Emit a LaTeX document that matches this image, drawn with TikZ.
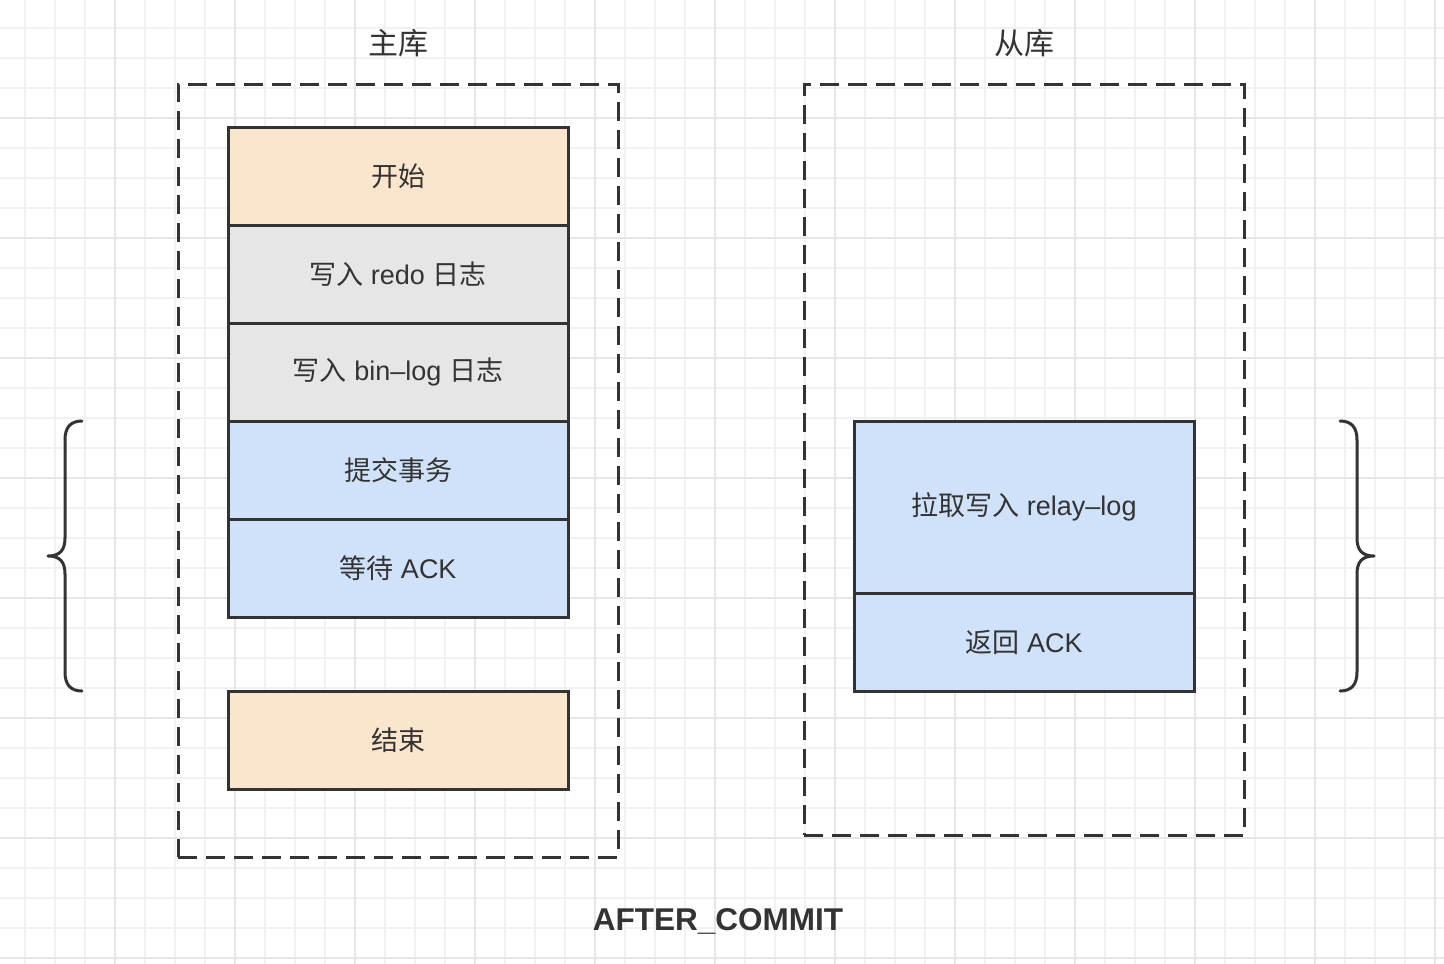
\documentclass[tikz,border=0pt]{standalone}
\usepackage{fontspec}
\setmainfont{Liberation Sans}
\newfontfamily\cjk{Noto Sans CJK SC}
\definecolor{peach}{HTML}{FCE5CD}
\definecolor{grayfill}{HTML}{E6E6E6}
\definecolor{bluefill}{HTML}{D0E2F9}
\definecolor{ink}{HTML}{333333}
\definecolor{gridminor}{HTML}{F1F1F1}
\definecolor{gridmajor}{HTML}{E6E6E6}
\begin{document}
\begin{tikzpicture}[x=1pt,y=-1pt,
  stepbox/.style={draw=ink, line width=3pt, minimum width=340pt, minimum height=98pt, inner sep=0pt, text=ink, font=\fontsize{27}{32}\selectfont},
  dashbox/.style={draw=ink, line width=3pt, dash pattern=on 19pt off 9pt, minimum width=440pt, inner sep=0pt},
  titletext/.style={text=ink, font=\fontsize{30}{34}\selectfont\cjk, inner sep=0pt},
  bracepath/.style={draw=ink, line width=3pt, line cap=round, line join=round},
  minorgrid/.style={draw=gridminor, line width=1.2pt},
  majorgrid/.style={draw=gridmajor, line width=1.6pt}]
\useasboundingbox (0,0) rectangle (1444,964);
\fill[white] (0,0) rectangle (1444,964);
% grid
\foreach \x in {25,55,...,1435} \draw[minorgrid] (\x,0) -- (\x,964);
\foreach \y in {28,58,...,958} \draw[minorgrid] (0,\y) -- (1444,\y);
\foreach \x in {115,235,...,1435} \draw[majorgrid] (\x,0) -- (\x,964);
\foreach \y in {118,238,...,958} \draw[majorgrid] (0,\y) -- (1444,\y);

% titles
\node[titletext] (mtitle) at (398,43) {主库};
\node[titletext] (stitle) at (1024,43) {从库};

% dashed containers
\node[dashbox, minimum height=773pt] (master) at (398,470.5) {};
\node[dashbox, minimum height=751pt] (slave) at (1024,459.5) {};

% master steps
\node[stepbox, fill=peach] (start) at (398,176) {{\cjk 开始}};
\node[stepbox, fill=grayfill] (redo) at (398,274) {{\cjk 写入} redo {\cjk 日志}};
\node[stepbox, fill=grayfill] (binlog) at (398,372) {{\cjk 写入} bin–log {\cjk 日志}};
\node[stepbox, fill=bluefill] (commit) at (398,470) {{\cjk 提交事务}};
\node[stepbox, fill=bluefill] (wait) at (398,568) {{\cjk 等待} ACK};
\node[stepbox, fill=peach] (finish) at (398,740) {{\cjk 结束}};

% slave steps
\node[stepbox, fill=bluefill, minimum height=172pt] (relay) at (1024,507) {{\cjk 拉取写入} relay–log};
\node[stepbox, fill=bluefill] (ack) at (1024,642) {{\cjk 返回} ACK};

% braces
\coordinate (lbt) at (82,421);
\coordinate (lbm) at (48,556);
\coordinate (lbb) at (82,691);
\draw[bracepath] (lbt) .. controls (70,421) and (65,428) .. (65,440)
  -- (65,538) .. controls (65,550) and (60,556) .. (lbm)
  .. controls (60,556) and (65,562) .. (65,574)
  -- (65,672) .. controls (65,684) and (70,691) .. (lbb);
\coordinate (rbt) at (1340,421);
\coordinate (rbm) at (1374,556);
\coordinate (rbb) at (1340,691);
\draw[bracepath] (rbt) .. controls (1352,421) and (1357,428) .. (1357,440)
  -- (1357,538) .. controls (1357,550) and (1362,556) .. (rbm)
  .. controls (1362,556) and (1357,562) .. (1357,574)
  -- (1357,672) .. controls (1357,684) and (1352,691) .. (rbb);

% caption
\node[text=ink, font=\fontsize{31.5}{36}\selectfont\bfseries, inner sep=0pt] (caption) at (718,921) {AFTER\_COMMIT};
\end{tikzpicture}
\end{document}
